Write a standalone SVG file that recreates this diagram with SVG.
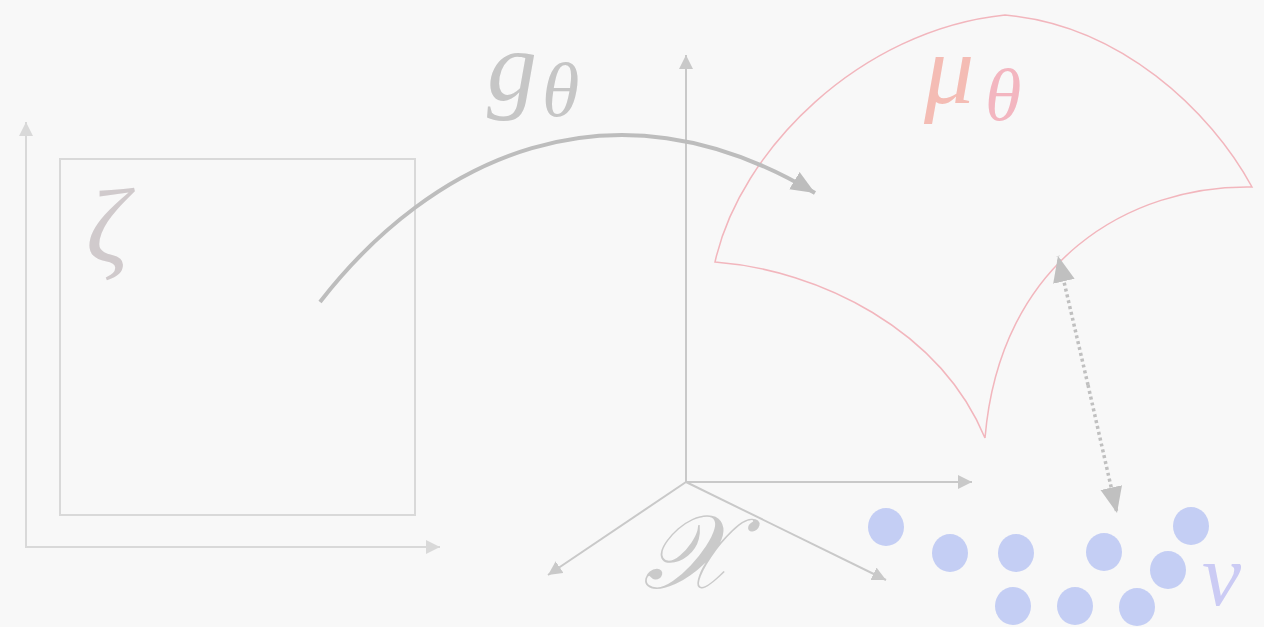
<svg xmlns="http://www.w3.org/2000/svg" width="1264" height="627" viewBox="0 0 1264 627">
<style>
.lbl{font-family:"Liberation Serif","DejaVu Serif",serif;font-style:italic}
.ax1{stroke:#d9d9d9;stroke-width:2;fill:none}
.ax2{stroke:#c9c9c9;stroke-width:2;fill:none}
.dot{fill:#c4cef4}
</style>
<defs>
<marker id="ah1" markerUnits="userSpaceOnUse" markerWidth="16" markerHeight="14" refX="14" refY="7" orient="auto"><path d="M0,0 L14,7 L0,14 Z" fill="#d9d9d9"/></marker>
<marker id="ah2" markerUnits="userSpaceOnUse" markerWidth="16" markerHeight="14" refX="14" refY="7" orient="auto"><path d="M0,0 L14,7 L0,14 Z" fill="#c9c9c9"/></marker>
<marker id="ahg" markerUnits="userSpaceOnUse" markerWidth="26" markerHeight="22" refX="24" refY="11" orient="auto"><path d="M0,1 L24,11 L0,21 Z" fill="#bdbdbd"/></marker>
<marker id="ahd" markerUnits="userSpaceOnUse" markerWidth="28" markerHeight="24" refX="26" refY="12" orient="auto"><path d="M0,1 L26,12 L0,23 Z" fill="#c0c0c0"/></marker>
</defs>
<rect width="1264" height="627" fill="#f8f8f8"/>
<g id="latent-space">
<line class="ax1" x1="26" y1="548" x2="26" y2="122" marker-end="url(#ah1)"/>
<line class="ax1" x1="25" y1="547" x2="440" y2="547" marker-end="url(#ah1)"/>
<rect x="60" y="159" width="355" height="356" fill="none" stroke="#d9d9d9" stroke-width="2"/>
<text class="lbl" x="86" y="262" font-size="106" fill="#d0cacc">ζ</text>
</g>
<g id="data-space">
<line class="ax2" x1="686" y1="483" x2="686" y2="55" marker-end="url(#ah2)"/>
<line class="ax2" x1="686" y1="482" x2="972" y2="482" marker-end="url(#ah2)"/>
<line class="ax2" x1="686" y1="482" x2="548" y2="575" marker-end="url(#ah2)"/>
<line class="ax2" x1="686" y1="482" x2="886" y2="580" marker-end="url(#ah2)"/>
<text class="lbl" x="643" y="588" font-size="104" fill="#cacaca">𝒳</text>
</g>
<g id="manifold">
<path d="M715,262 C740,150 860,30 1005,15 C1120,25 1210,110 1252,187 C1130,185 1000,260 985,438 C940,330 820,270 715,262 Z" fill="none" stroke="#f2b6bd" stroke-width="1.5"/>
<text class="lbl" x="924" y="103" font-size="100" fill="#f4bcb4">μ</text>
<text class="lbl" x="985" y="120" font-size="74" fill="#f3b6c0">θ</text>
</g>
<g id="samples">
<ellipse class="dot" cx="886" cy="527" rx="18" ry="19"/>
<ellipse class="dot" cx="950" cy="553" rx="18" ry="19"/>
<ellipse class="dot" cx="1016" cy="553" rx="18" ry="19"/>
<ellipse class="dot" cx="1104" cy="552" rx="18" ry="19"/>
<ellipse class="dot" cx="1191" cy="526" rx="18" ry="19"/>
<ellipse class="dot" cx="1168" cy="570" rx="18" ry="19"/>
<ellipse class="dot" cx="1013" cy="606" rx="18" ry="19"/>
<ellipse class="dot" cx="1075" cy="606" rx="18" ry="19"/>
<ellipse class="dot" cx="1137" cy="607" rx="18" ry="19"/>
<text class="lbl" x="1202" y="605" font-size="88" fill="#cbcbf4">ν</text>
</g>
<g id="connectors">
<path d="M320,302 C430,160 610,70 815,193" fill="none" stroke="#bdbdbd" stroke-width="4" marker-end="url(#ahg)"/>
<text class="lbl" x="487" y="100" font-size="100" fill="#c6c6c6">g</text>
<text class="lbl" x="542" y="116" font-size="76" fill="#c6c6c6">θ</text>
<line x1="1088" y1="385" x2="1058" y2="256" stroke="#c0c0c0" stroke-width="3.5" stroke-dasharray="3,3" marker-end="url(#ahd)"/>
<line x1="1088" y1="385" x2="1117" y2="513" stroke="#c0c0c0" stroke-width="3.5" stroke-dasharray="3,3" marker-end="url(#ahd)"/>
</g>
</svg>
